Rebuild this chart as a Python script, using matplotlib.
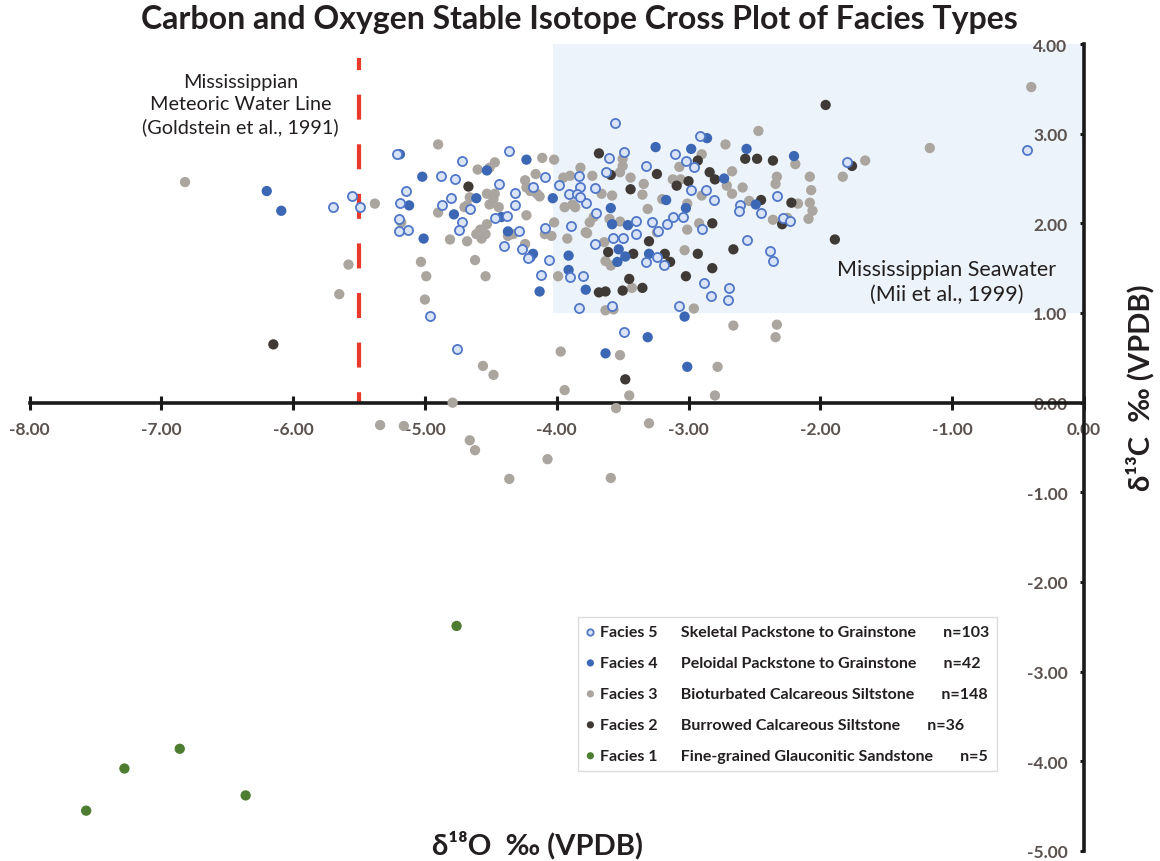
import matplotlib.pyplot as plt
from matplotlib.patches import Rectangle

plt.rcParams['font.family'] = ['Lato', 'DejaVu Sans']

# Facies 5 - Skeletal Packstone to Grainstone (open circles)
f5_x = [-5.70, -5.55, -5.49, -5.21, -4.36, -4.72, -4.88, -4.77, -4.44, -4.09,
        -5.14, -5.19, -4.87, -4.80, -4.66, -4.32, -4.32, -4.18, -4.72, -4.74,
        -4.47, -4.38, -5.20, -5.13, -5.20, -4.29, -4.40, -4.26, -4.22, -4.09,
        -4.06, -3.89, -4.12, -3.90, -3.80, -3.83, -4.96, -3.98, -3.91, -3.83,
        -3.82, -3.85, -3.56, -2.91, -3.49, -3.60, -3.10, -3.02, -2.96, -3.32,
        -3.63, -3.71, -2.98, -2.87, -2.81, -3.78, -3.82, -2.61, -2.62, -2.33,
        -2.45, -3.70, -3.40, -3.28, -3.16, -3.12, -3.04, -2.90, -3.23, -3.40,
        -3.57, -3.50, -3.71, -3.32, -3.24, -3.19, -2.56, -2.38, -2.36, -2.88,
        -2.83, -2.69, -2.70, -3.07, -3.58, -0.43, -1.80, -2.28, -2.23, -4.76,
        -3.49]
f5_y = [2.18, 2.30, 2.18, 2.77, 2.81, 2.70, 2.53, 2.50, 2.44, 2.52,
        2.36, 2.23, 2.21, 2.28, 2.16, 2.34, 2.21, 2.41, 2.01, 1.93,
        2.06, 2.08, 2.05, 1.93, 1.92, 1.91, 1.75, 1.71, 1.61, 1.95,
        1.59, 1.97, 1.42, 1.40, 1.41, 1.06, 0.97, 2.43, 2.33, 2.53,
        2.40, 2.33, 3.12, 2.97, 2.79, 2.73, 2.77, 2.70, 2.63, 2.64,
        2.57, 2.39, 2.37, 2.37, 2.26, 2.23, 2.29, 2.20, 2.14, 2.30,
        2.11, 2.12, 2.03, 2.02, 1.99, 2.07, 2.07, 1.94, 1.91, 1.88,
        1.84, 1.84, 1.77, 1.57, 1.62, 1.53, 1.81, 1.69, 1.58, 1.34,
        1.19, 1.28, 1.15, 1.08, 1.08, 2.82, 2.68, 2.06, 2.03, 0.60,
        0.79]

# Facies 4 - Peloidal Packstone to Grainstone
f4_x = [-6.20, -6.09, -5.19, -4.23, -4.53, -5.02, -5.12, -4.61, -4.03, -4.78,
        -4.42, -5.01, -4.37, -4.18, -4.20, -3.91, -3.91, -4.13, -3.78, -2.86,
        -3.25, -2.98, -2.56, -2.73, -3.17, -3.02, -2.49, -3.59, -3.58, -3.46,
        -3.53, -3.54, -3.48, -3.30, -3.03, -2.20, -3.63, -3.31, -3.01]
f4_y = [2.36, 2.14, 2.77, 2.71, 2.59, 2.52, 2.20, 2.28, 2.28, 2.10,
        2.07, 1.83, 1.91, 1.66, 1.62, 1.64, 1.48, 1.24, 1.26, 2.95,
        2.85, 2.83, 2.83, 2.50, 2.26, 2.17, 2.21, 2.17, 1.99, 1.98,
        1.71, 1.57, 1.63, 1.66, 0.96, 2.75, 0.55, 0.73, 0.40]

# Facies 3 - Bioturbated Calcareous Siltstone
f3_x = [-6.82, -5.38, -5.58, -5.65, -4.90, -4.11, -4.02, -4.60, -4.51, -4.47,
        -4.24, -4.16, -4.66, -4.68, -4.70, -4.53, -4.51, -4.44, -4.48, -4.47,
        -4.23, -4.20, -4.15, -4.13, -4.90, -4.53, -4.58, -4.54, -4.61, -4.23,
        -5.18, -4.81, -4.68, -4.57, -4.37, -4.33, -4.24, -4.02, -4.09, -4.04,
        -3.92, -3.99, -3.78, -5.03, -4.99, -5.00, -4.62, -4.54, -3.95, -3.90,
        -3.82, -3.86, -3.94, -3.88, -2.47, -2.72, -3.50, -3.50, -2.90, -3.07,
        -3.73, -3.52, -3.44, -3.34, -3.12, -3.06, -2.67, -2.71, -2.59, -2.33,
        -2.34, -3.35, -3.58, -3.66, -3.20, -2.90, -2.67, -2.54, -3.01, -3.31,
        -3.72, -3.75, -3.77, -3.52, -3.60, -3.24, -3.01, -2.92, -3.64, -3.03,
        -3.63, -3.59, -3.43, -2.96, -3.63, -3.57, -2.66, -2.33, -0.40, -1.17,
        -2.19, -1.66, -1.83, -2.08, -2.07, -2.08, -2.06, -2.09, -2.17, -2.36,
        -2.25, -4.56, -4.48, -3.97, -3.52, -2.34, -2.78, -3.94, -3.45, -2.80,
        -4.79, -3.55, -5.34, -5.16, -3.30, -4.66, -4.62, -4.07, -4.36, -3.59]
f3_y = [2.46, 2.22, 1.54, 1.21, 2.88, 2.73, 2.71, 2.60, 2.62, 2.68,
        2.48, 2.55, 2.29, 2.20, 2.18, 2.33, 2.21, 2.18, 2.27, 2.33,
        2.40, 2.36, 2.33, 2.30, 2.12, 1.99, 1.93, 1.88, 1.88, 2.09,
        2.01, 1.82, 1.80, 1.83, 1.86, 1.88, 1.77, 2.01, 1.88, 1.86,
        1.83, 1.41, 1.90, 1.57, 1.41, 1.15, 1.59, 1.41, 2.51, 2.53,
        2.62, 2.18, 2.18, 2.21, 3.03, 2.88, 2.72, 2.64, 2.77, 2.63,
        2.53, 2.57, 2.51, 2.44, 2.49, 2.49, 2.58, 2.42, 2.40, 2.52,
        2.44, 2.32, 2.31, 2.33, 2.27, 2.31, 2.33, 2.25, 2.22, 2.16,
        2.07, 2.01, 1.89, 2.02, 2.05, 1.90, 1.93, 2.00, 1.79, 1.70,
        1.58, 1.53, 1.28, 1.05, 1.03, 1.04, 0.86, 0.87, 3.52, 2.84,
        2.66, 2.70, 2.52, 2.52, 2.37, 2.23, 2.14, 2.05, 2.22, 2.04,
        2.06, 0.41, 0.31, 0.57, 0.53, 0.73, 0.40, 0.14, 0.08, 0.08,
        0.00, -0.06, -0.25, -0.26, -0.23, -0.42, -0.53, -0.63, -0.85, -0.84]

# Facies 2 - Burrowed Calcareous Siltstone
f2_x = [-6.15, -4.67, -3.68, -2.93, -2.57, -2.48, -2.36, -3.59, -3.24, -3.09,
        -3.00, -2.84, -2.80, -3.44, -2.45, -2.82, -3.30, -3.61, -3.42, -3.18,
        -3.14, -2.93, -2.66, -2.82, -3.02, -3.45, -3.50, -3.35, -3.68, -3.63,
        -1.96, -1.76, -2.22, -2.29, -1.89, -3.48]
f2_y = [0.65, 2.41, 2.78, 2.70, 2.72, 2.72, 2.70, 2.54, 2.55, 2.42,
        2.47, 2.57, 2.49, 2.38, 2.26, 2.00, 1.80, 1.68, 1.66, 1.66,
        1.57, 1.66, 1.71, 1.50, 1.41, 1.38, 1.25, 1.28, 1.23, 1.24,
        3.32, 2.64, 2.23, 1.99, 1.82, 0.26]

# Facies 1 - Fine-grained Glauconitic Sandstone
f1_x = [-4.76, -6.86, -7.28, -7.57, -6.36]
f1_y = [-2.49, -3.86, -4.08, -4.55, -4.38]

labels = {
    5: 'Facies 5      Skeletal Packstone to Grainstone       n=103',
    4: 'Facies 4      Peloidal Packstone to Grainstone       n=42',
    3: 'Facies 3      Bioturbated Calcareous Siltstone       n=148',
    2: 'Facies 2      Burrowed Calcareous Siltstone       n=36',
    1: 'Facies 1      Fine-grained Glauconitic Sandstone       n=5',
}

meteoric_line_x = -5.5
meteoric_line_top = 3.84
seawater_box = (-4.03, 1.0, 4.03, 3.0)  # x, y, width, height

xticks = [-8, -7, -6, -5, -4, -3, -2, -1, 0]
yticks = [-5, -4, -3, -2, -1, 0, 1, 2, 3, 4]

fig = plt.figure(figsize=(11.6, 8.62), dpi=100)
ax = fig.add_axes([29.5 / 1160, 10 / 862, (1084 - 29.5) / 1160, 807 / 862])
ax.set_xlim(-8, 0)
ax.set_ylim(-5, 4)

# seawater field
ax.add_patch(Rectangle(seawater_box[:2], seawater_box[2], seawater_box[3],
                       facecolor='#edf3fa', edgecolor='none', zorder=0))

# meteoric water line
ax.plot([meteoric_line_x, meteoric_line_x], [0, meteoric_line_top], color='#e8392b',
        lw=3, linestyle=(3.4, (6.0, 5.9)), solid_capstyle='butt', zorder=1)

ms = 55
s3 = ax.scatter(f3_x, f3_y, s=ms, color='#aaa59f', edgecolors='none', zorder=3, label=labels[3])
s2 = ax.scatter(f2_x, f2_y, s=ms, color='#403a37', edgecolors='none', zorder=3, label=labels[2])
s4 = ax.scatter(f4_x, f4_y, s=ms, color='#3b67b5', edgecolors='none', zorder=4, label=labels[4])
s5 = ax.scatter(f5_x, f5_y, s=ms - 12, facecolors='#d9e4f8', edgecolors='#5177c8',
                linewidths=1.3, zorder=4, label=labels[5])
s1 = ax.scatter(f1_x, f1_y, s=ms, color='#4e7d32', edgecolors='none', zorder=3, label=labels[1])

# axes through the origin
for side in ['top', 'right']:
    ax.spines[side].set_visible(False)
ax.spines['bottom'].set_position(('data', 0))
ax.spines['left'].set_position(('data', 0))
for side in ['bottom', 'left']:
    ax.spines[side].set_linewidth(2.6)
    ax.spines[side].set_color('#1a1a1a')
    ax.spines[side].set_zorder(2)

tick_color = '#5a524e'
ax.set_xticks(xticks)
ax.set_xticklabels(['%.2f' % v for v in xticks], fontweight='bold')
ax.set_yticks(yticks)
ax.set_yticklabels(['%.2f' % v for v in yticks], fontweight='bold')
ax.tick_params(axis='x', direction='inout', length=10, width=2.2, color='#1a1a1a',
               pad=8, labelsize=12.5, labelcolor=tick_color)
ax.tick_params(axis='y', direction='out', length=3, width=2.2, color='#1a1a1a',
               pad=9, labelsize=12.5, labelcolor=tick_color)

# annotations
ax.text(-6.40, 3.33, 'Mississippian\nMeteoric Water Line\n(Goldstein et al., 1991)',
        ha='center', va='center', fontsize=14.3, color='#231f20', linespacing=1.35)
ax.text(-1.04, 1.35, 'Mississippian Seawater\n(Mii et al., 1999)',
        ha='center', va='center', fontsize=15.5, color='#231f20', linespacing=1.3)

fig.text(579 / 1160, 1 - 19 / 862, 'Carbon and Oxygen Stable Isotope Cross Plot of Facies Types',
         ha='center', va='center', fontsize=23, fontweight='bold', color='#231f20')
fig.text(537 / 1160, 1 - 845 / 862, 'δ¹⁸O  ‰ (VPDB)', ha='center', va='center',
         fontsize=21, fontweight='bold', color='#231f20')
fig.text(1140 / 1160, 1 - 388 / 862, 'δ¹³C  ‰ (VPDB)', ha='center', va='center',
         rotation=90, fontsize=21, fontweight='bold', color='#231f20')

leg = ax.legend(handles=[s5, s4, s3, s2, s1], loc='upper left',
                bbox_to_anchor=(578 / 1160, 1 - 618 / 862), bbox_transform=fig.transFigure,
                prop={'weight': 'bold', 'size': 11.5}, markerscale=0.7,
                handlelength=0.55, handletextpad=0.3, borderpad=0.5, labelspacing=1.05,
                frameon=True, fancybox=False, borderaxespad=0)
leg.get_frame().set_edgecolor('#d4d4d4')
leg.get_frame().set_linewidth(1.0)
for t in leg.get_texts():
    t.set_color('#231f20')

fig.savefig('out.png', dpi=100)
